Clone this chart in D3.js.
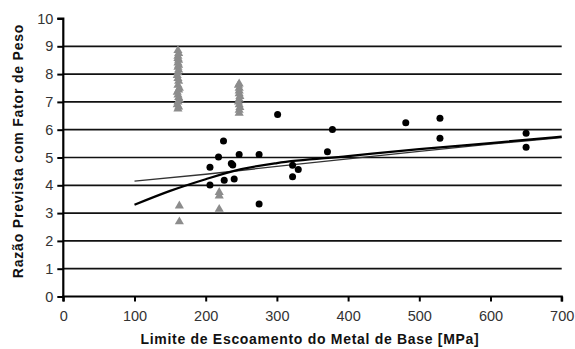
<!DOCTYPE html>
<html><head><meta charset="utf-8">
<script src="https://cdn.jsdelivr.net/npm/d3@7"></script>
<style>body{margin:0;background:#fff}svg{display:block}</style>
</head><body>
<svg id="c" width="575" height="349"></svg>
<script>
// ---- data ----
const xTicks = [0,100,200,300,400,500,600,700];
const yTicks = [0,1,2,3,4,5,6,7,8,9,10];
const gridValues = [1,2,3,4,5,6,7,8,9];

// black circles: yield strength [MPa], ratio
const circX = [301,225,218,247,275,206,238,240,206,275,322,330,322,378,481,371,529,529,650,650,236,226];
const circY = [6.55,5.59,5.02,5.11,5.11,4.65,4.73,4.23,4.01,3.33,4.72,4.57,4.31,6.01,6.25,5.21,6.41,5.69,5.87,5.37,4.78,4.18];

// gray triangles
const triX = [161,162,160,161,163,162,161,160,162,163,161,162,161,160,161,162,161,162,161,162,161,161,162,161,
              247,247,248,247,246,247,248,247,247,247,246,247,
              163,163,219,219,219];
const triY = [6.75,6.82,6.9,7.0,7.08,7.16,7.25,7.35,7.43,7.5,7.6,7.75,7.85,7.95,8.05,8.15,8.25,8.32,8.4,8.5,8.57,8.65,8.75,8.85,
              6.6,6.7,6.8,6.9,7.0,7.1,7.2,7.3,7.4,7.5,7.6,7.65,
              3.26,2.69,3.75,3.62,3.14];

// trend line 1 (black, curved)
const lineAX = [100,150,200,250,300,400,500,600,700];
const lineAY = [3.30,3.80,4.22,4.58,4.80,5.05,5.30,5.52,5.75];
// trend line 2 (thin, straight)
const lineBX = [100,200,300,400,500,600,700];
const lineBY = [4.15,4.40,4.68,4.95,5.22,5.48,5.72];

// ---- drawing ----
const svg = d3.select('#c');
const x = d3.scaleLinear().domain([0,700]).range([63.3,561.7]);
const y = d3.scaleLinear().domain([0,10]).range([296.5,18.5]);

// gridlines
svg.append('g').selectAll('line').data(gridValues).join('line')
  .attr('x1',x(0)).attr('x2',x(700))
  .attr('y1',d=>y(d)).attr('y2',d=>y(d))
  .attr('stroke','#111').attr('stroke-width',1.7);

// axes
const font = 'Liberation Sans, Arial, sans-serif';
const yAxis = svg.append('g').attr('transform',`translate(${x(0)},0)`)
  .call(d3.axisLeft(y).tickValues(yTicks).tickSize(6).tickPadding(4).tickFormat(d3.format('d')));
const xAxis = svg.append('g').attr('transform',`translate(0,${y(0)})`)
  .call(d3.axisBottom(x).tickValues(xTicks).tickSize(5).tickPadding(9).tickFormat(d3.format('d')));
[yAxis,xAxis].forEach(a=>{
  a.select('.domain').attr('stroke','#000').attr('stroke-width',2.2);
  a.selectAll('.tick line').attr('stroke','#000').attr('stroke-width',2);
  a.selectAll('.tick text').attr('fill','#333').style('font-family',font).style('font-size','14.5px');
});
yAxis.select('.domain').attr('d',`M-6,${y(10)}H0V${y(0)}`);
xAxis.select('.domain').attr('d',`M${x(0)},5V0H${x(700)}V5`);

// trend lines
const lineGen = d3.line().x(d=>x(d[0])).y(d=>y(d[1]));
svg.append('path').datum(lineBX.map((v,i)=>[v,lineBY[i]]))
  .attr('d',lineGen).attr('fill','none').attr('stroke','#333').attr('stroke-width',1.4);
svg.append('path').datum(lineAX.map((v,i)=>[v,lineAY[i]]))
  .attr('d',d3.line().x(d=>x(d[0])).y(d=>y(d[1])).curve(d3.curveMonotoneX))
  .attr('fill','none').attr('stroke','#000').attr('stroke-width',2.2);

// triangles
const tri = d3.symbol().type(d3.symbolTriangle).size(36);
svg.append('g').selectAll('path').data(triX.map((v,i)=>[v,triY[i]])).join('path')
  .attr('d',tri).attr('transform',d=>`translate(${x(d[0])},${y(d[1])})`)
  .attr('fill','#8c8c8c');

// circles
svg.append('g').selectAll('circle').data(circX.map((v,i)=>[v,circY[i]])).join('circle')
  .attr('cx',d=>x(d[0])).attr('cy',d=>y(d[1])).attr('r',3.5).attr('fill','#000');

// axis titles
svg.append('text').attr('x',310).attr('y',344).attr('text-anchor','middle')
  .style('font-family',font).style('font-weight','bold').style('font-size','14px')
  .style('letter-spacing','0.7px').attr('fill','#111')
  .text('Limite de Escoamento do Metal de Base [MPa]');
svg.append('text').attr('transform','translate(23,151) rotate(-90)').attr('text-anchor','middle')
  .style('font-family',font).style('font-weight','bold').style('font-size','14px')
  .style('letter-spacing','0.8px').attr('fill','#111')
  .text('Razão Prevista com Fator de Peso');
</script>
</body></html>
